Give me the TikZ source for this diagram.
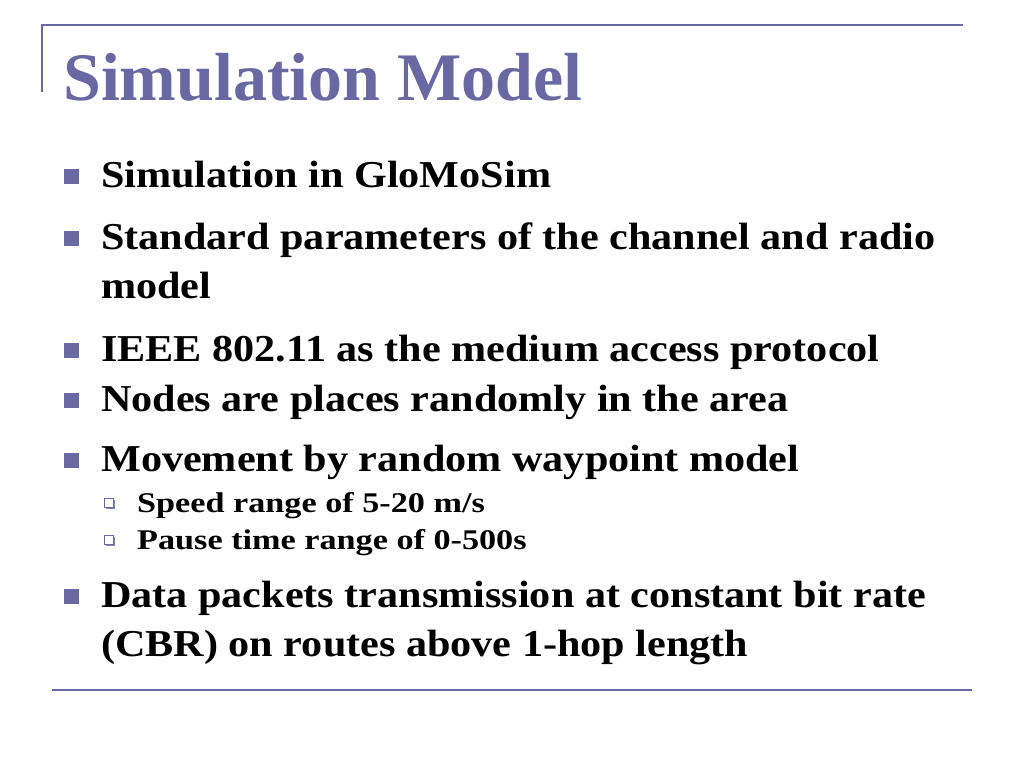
\documentclass[tikz,border=0pt]{standalone}
\usepackage{fontspec}
\setmainfont{Liberation Serif}
\newfontfamily\bodyf[FakeStretch=1.11]{Liberation Serif}
\newfontfamily\subf[FakeStretch=1.2]{Liberation Serif}
\usetikzlibrary{shadows}
\definecolor{slate}{RGB}{104,104,162}
\begin{document}
\begin{tikzpicture}[x=1pt,y=-1pt,
  title/.style={anchor=base west,inner sep=0pt,text=slate,font=\fontsize{68}{68}\selectfont\bfseries},
  body/.style={anchor=base west,inner sep=0pt,font=\bodyf\fontsize{38}{38}\selectfont\bfseries},
  sub/.style={anchor=base west,inner sep=0pt,font=\subf\fontsize{28.5}{28.5}\selectfont\bfseries},
  bul/.style={fill=slate,draw=none,minimum size=15pt,inner sep=0pt},
  subbul/.style={draw=slate,fill=white,line width=1pt,minimum size=8.5pt,inner sep=0pt,
     drop shadow={shadow xshift=1.5pt,shadow yshift=-1.5pt,fill=slate!80,opacity=1}},
  rule/.style={draw=slate,line width=2pt}]
\useasboundingbox (0,0) rectangle (1024,768);
\coordinate (tl) at (42,92);
\coordinate (tc) at (42,25);
\coordinate (tr) at (963,25);
\draw[rule] (tl) -- (tc) -- (tr);
\coordinate (bl) at (52,690);
\coordinate (br) at (972,690);
\draw[rule] (bl) -- (br);
\node[title] (t) at (63,100) {Simulation Model};
\node[bul] (b1) at (71,176) {};
\node[body] (l1) at (101,187) {Simulation in GloMoSim};
\node[bul] (b2) at (71,238) {};
\node[body] (l2) at (101,249) {Standard parameters of the channel and radio};
\node[body] (l2b) at (101,298) {model};
\node[bul] (b3) at (71,350) {};
\node[body] (l3) at (101,361) {IEEE 802.11 as the medium access protocol};
\node[bul] (b4) at (71,400) {};
\node[body] (l4) at (101,411) {Nodes are places randomly in the area};
\node[bul] (b5) at (71,460) {};
\node[body] (l5) at (101,471) {Movement by random waypoint model};
\node[subbul] (s1) at (109,503) {};
\node[sub] (l6) at (137,512) {Speed range of 5-20 m/s};
\node[subbul] (s2) at (109,540) {};
\node[sub] (l7) at (137,549) {Pause time range of 0-500s};
\node[bul] (b8) at (71,596) {};
\node[body] (l8) at (101,607) {Data packets transmission at constant bit rate};
\node[body] (l8b) at (101,656) {(CBR) on routes above 1-hop length};
\end{tikzpicture}
\end{document}
